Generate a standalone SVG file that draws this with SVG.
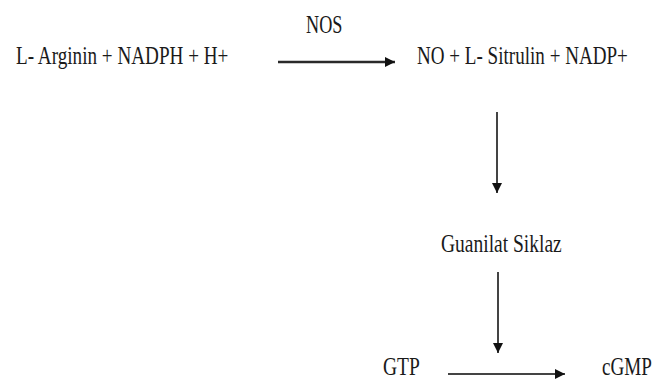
<svg xmlns="http://www.w3.org/2000/svg" width="655" height="388" viewBox="0 0 655 388">
<style>
  .t { font-family: "Liberation Serif", "Times New Roman", serif; font-size: 26px; fill: #1a1a1a; }
  .c { fill: none; stroke: #444; stroke-width: 2; }
  .thick { stroke: #2a2a2a; stroke-width: 2.5; }
</style>
<defs>
  <marker id="ah" viewBox="0 0 10 10" refX="10" refY="5" markerWidth="10" markerHeight="10" markerUnits="userSpaceOnUse" orient="auto">
    <path d="M0,0 L10,5 L0,10 Z" fill="#111"/>
  </marker>
</defs>
<rect width="655" height="388" fill="#fff"/>
<g id="reactants"><text class="t" transform="translate(16,64) scale(0.737,1)">L- Arginin + NADPH + H+</text></g>
<g id="nos"><text class="t" transform="translate(306,33) scale(0.7,1)">NOS</text></g>
<g id="products"><text class="t" transform="translate(417,64) scale(0.734,1)">NO + L- Sitrulin + NADP+</text></g>
<g id="guanilat"><text class="t" transform="translate(441,252) scale(0.75,1)">Guanilat Siklaz</text></g>
<g id="gtp"><text class="t" transform="translate(383,375) scale(0.75,1)">GTP</text></g>
<g id="cgmp"><text class="t" transform="translate(602,375) scale(0.735,1)">cGMP</text></g>
<g id="connectors">
  <line class="c thick" x1="278" y1="62" x2="395" y2="62" marker-end="url(#ah)"/>
  <line class="c" x1="497" y1="112" x2="497" y2="193" marker-end="url(#ah)"/>
  <line class="c" x1="498" y1="272" x2="498" y2="353" marker-end="url(#ah)"/>
  <line class="c" x1="448" y1="374" x2="565" y2="374" marker-end="url(#ah)"/>
</g>
</svg>
